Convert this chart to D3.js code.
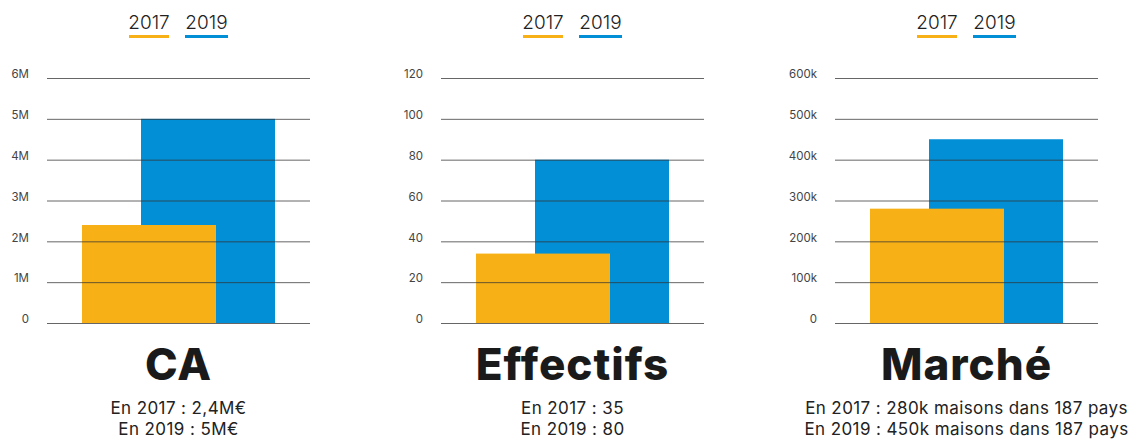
<!DOCTYPE html>
<html>
<head>
<meta charset="utf-8">
<script src="https://cdn.jsdelivr.net/npm/d3@7"></script>
<style>
  body { margin: 0; background: #fff; }
  svg text { font-family: Inter, "Noto Sans", sans-serif; }
</style>
</head>
<body>
<div id="chart"></div>
<script>
// Data
const years = ["2017", "2019"];
const titles = ["CA", "Effectifs", "Marché"];
const values2017 = [2400000, 34, 280000];
const values2019 = [5000000, 80, 450000];
const axisMax = [6000000, 120, 600000];
const tickStep = [1000000, 20, 100000];
const tickFormats = [
    d => d === 0 ? "0" : (d / 1e6) + "M",
    d => String(d),
    d => d === 0 ? "0" : (d / 1e3) + "k"
];
const notes = [
    ["En 2017 : 2,4M€", "En 2019 : 5M€"],
    ["En 2017 : 35", "En 2019 : 80"],
    ["En 2017 : 280k maisons dans 187 pays", "En 2019 : 450k maisons dans 187 pays"]
];
const colors = { "2017": "#F7B116", "2019": "#028FD6" };

function drawCharts() {
    const width = 1136, height = 441;
    const panelW = 263;
    const panelLefts = [47, 441, 835];
    const top = 78, bottom = 323;
    const barW = 134;

    const svg = d3.select("#chart")
        .append("svg")
        .attr("width", width)
        .attr("height", height);

    // x offsets for the two overlapping bars
    const x = d3.scaleBand()
        .domain(years)
        .range([35, 153])
        .padding(0);

    titles.forEach((title, i) => {
        const g = svg.append("g")
            .attr("transform", `translate(${panelLefts[i]},0)`);

        const y = d3.scaleLinear()
            .domain([0, axisMax[i]])
            .range([bottom, top]);

        const rows = [
            { year: "2019", value: values2019[i] },
            { year: "2017", value: values2017[i] }
        ];

        // Bars (2019 behind, 2017 in front)
        g.selectAll(".bar")
            .data(rows)
            .enter()
            .append("rect")
            .attr("x", d => x(d.year))
            .attr("y", d => y(d.value))
            .attr("width", barW)
            .attr("height", d => y(0) - y(d.value))
            .attr("fill", d => colors[d.year]);

        // Gridlines and tick labels on top of bars
        const axis = d3.axisLeft(y)
            .tickValues(d3.range(0, axisMax[i] + tickStep[i] / 2, tickStep[i]))
            .tickSize(-panelW)
            .tickPadding(18)
            .tickFormat(tickFormats[i]);

        const ax = g.append("g").call(axis);
        ax.select(".domain").remove();
        ax.selectAll(".tick line")
            .attr("stroke", "#333")
            .attr("stroke-opacity", 0.75);
        ax.selectAll(".tick text")
            .attr("y", -4)
            .attr("fill", "#444")
            .style("font-size", "11.5px");

        const cx = panelW / 2;

        // Legend
        const legend = g.append("g");
        const legendX = [cx - 49.5, cx + 6.5];
        const legendW = [40, 43];
        years.forEach((yr, k) => {
            legend.append("text")
                .attr("x", legendX[k] + legendW[k] / 2)
                .attr("y", 29)
                .attr("text-anchor", "middle")
                .attr("fill", "#222")
                .style("font-size", "19px")
                .style("font-weight", 300)
                .text(yr);
            legend.append("rect")
                .attr("x", legendX[k])
                .attr("y", 35)
                .attr("width", legendW[k])
                .attr("height", 3)
                .attr("fill", colors[yr]);
        });

        // Title
        g.append("text")
            .attr("x", cx)
            .attr("y", 380)
            .attr("text-anchor", "middle")
            .attr("fill", "#1a1a1a")
            .style("font-size", "44px")
            .style("font-weight", 800)
            .style("letter-spacing", "1px")
            .text(title);

        // Notes
        notes[i].forEach((line, k) => {
            g.append("text")
                .attr("x", cx)
                .attr("y", 414 + k * 21)
                .attr("text-anchor", "middle")
                .attr("fill", "#222")
                .style("font-size", "17px")
                .style("letter-spacing", "0.4px")
                .text(line);
        });
    });
}

drawCharts();
</script>
</body>
</html>
